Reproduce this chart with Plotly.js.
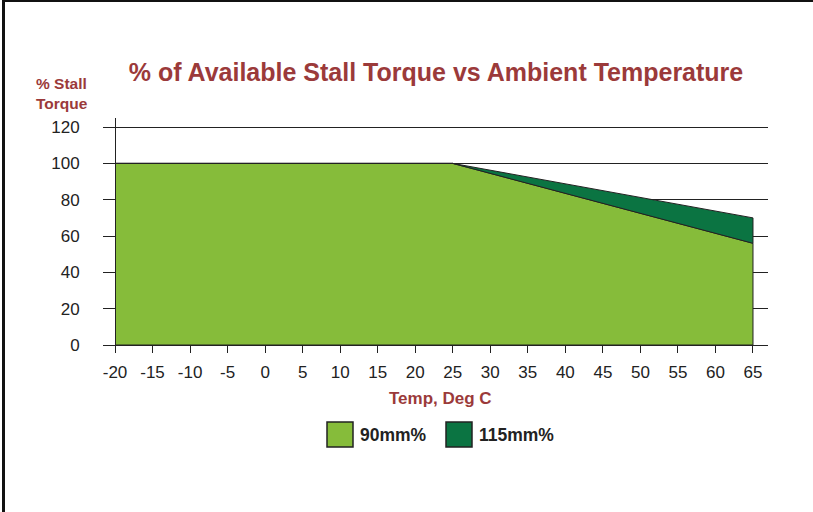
<!DOCTYPE html>
<html>
<head>
<meta charset="utf-8">
<script src="https://cdn.plot.ly/plotly-3.0.1.min.js"></script>
<style>
  html, body { margin: 0; padding: 0; background: #fff; }
  #chart { position: absolute; left: 0; top: 0; width: 813px; height: 512px; }
  #frame { position: absolute; left: 2px; top: 0px; width: 811px; height: 512px;
           border-top: 2px solid #111; border-left: 3px solid #111; box-sizing: border-box; pointer-events: none; }
</style>
</head>
<body>
<div id="chart"></div>
<div id="frame"></div>
<script>
// Data
const temps = [-20, 25, 65];            // Temp, Deg C (breakpoints)
const torque90 = [100, 100, 56];        // 90mm %
const torque115 = [100, 100, 70];       // 115mm %
const xTicks = [-20, -15, -10, -5, 0, 5, 10, 15, 20, 25, 30, 35, 40, 45, 50, 55, 60, 65];
const yTicks = [0, 20, 40, 60, 80, 100, 120];
const seriesNames = ['90mm%', '115mm%'];
const colors = ['#86bc3a', '#0b7442'];
const red = '#9b3a3a';
const FONT = 'Liberation Sans, Arial, sans-serif';

// Polygons built from the data arrays
const last = temps[temps.length - 1], first = temps[0];
const poly90x = temps.concat([last, first]);
const poly90y = torque90.concat([0, 0]);
const poly115x = temps.concat(temps.slice().reverse());
const poly115y = torque115.concat(torque90.slice().reverse());

const xRange = [-21.6, 67];
const yPos = (first - xRange[0]) / (xRange[1] - xRange[0]);

const traces = [
  { x: poly90x, y: poly90y, type: 'scatter', mode: 'lines', fill: 'toself',
    fillcolor: colors[0], line: { color: '#222', width: 1 }, name: seriesNames[0], showlegend: false, hoverinfo: 'skip' },
  { x: poly115x, y: poly115y, type: 'scatter', mode: 'lines', fill: 'toself',
    fillcolor: colors[1], line: { color: '#222', width: 1 }, name: seriesNames[1], showlegend: false, hoverinfo: 'skip' }
];

// legend drawn in paper coordinates (plot area: x 103..768, y 118..345 px)
function px(x) { return (x - 103) / 665; }
function py(y) { return (345 - y) / 227; }

const shapes = [
  { type: 'rect', xref: 'paper', yref: 'paper', x0: px(327), x1: px(353), y0: py(447), y1: py(422),
    fillcolor: colors[0], line: { color: '#222', width: 1.5 } },
  { type: 'rect', xref: 'paper', yref: 'paper', x0: px(446), x1: px(472), y0: py(447), y1: py(422),
    fillcolor: colors[1], line: { color: '#222', width: 1.5 } }
];

const annotations = [
  { text: seriesNames[0], xref: 'paper', yref: 'paper', x: px(358), y: py(435), xanchor: 'left', yanchor: 'middle',
    showarrow: false, font: { family: FONT, size: 17.5, color: '#222', weight: 'bold' } },
  { text: seriesNames[1], xref: 'paper', yref: 'paper', x: px(477), y: py(435), xanchor: 'left', yanchor: 'middle',
    showarrow: false, font: { family: FONT, size: 17.5, color: '#222', weight: 'bold' } },
  { text: '% Stall<br>Torque', xref: 'paper', yref: 'paper', x: px(34), y: py(93), xanchor: 'left', yanchor: 'middle',
    align: 'left', showarrow: false, font: { family: FONT, size: 15.5, color: red, weight: 'bold' } },
  { text: 'Temp, Deg C', xref: 'paper', yref: 'paper', x: px(440), y: py(398), xanchor: 'center', yanchor: 'middle',
    showarrow: false, font: { family: FONT, size: 17, color: red, weight: 'bold' } }
];

const layout = {
  width: 813, height: 512,
  margin: { l: 103, r: 45, t: 118, b: 167 },
  paper_bgcolor: '#fff', plot_bgcolor: '#fff',
  title: { text: '% of Available Stall Torque vs Ambient Temperature',
    font: { family: FONT, size: 25, color: red, weight: 'bold' },
    xref: 'paper', x: px(436), xanchor: 'center', yref: 'container', y: 1 - 72 / 512, yanchor: 'middle' },
  xaxis: { range: xRange, tickvals: xTicks, ticktext: xTicks.map(String), ticks: 'outside', ticklen: 7,
    tickcolor: '#222', showline: true, linecolor: '#222', linewidth: 1, showgrid: false, zeroline: false,
    ticklabelstandoff: 5,
    tickfont: { family: FONT, size: 17, color: '#222' } },
  yaxis: { range: [0, 125], tickvals: yTicks, ticks: 'outside', ticklen: 12, tickcolor: '#222',
    showline: true, linecolor: '#222', linewidth: 1, showgrid: true, gridcolor: '#222', gridwidth: 1,
    zeroline: false, anchor: 'free', position: yPos, ticklabelstandoff: 20,
    tickfont: { family: FONT, size: 17, color: '#222' } },
  shapes: shapes,
  annotations: annotations,
  showlegend: false
};

Plotly.newPlot('chart', traces, layout, { staticPlot: true, displayModeBar: false });
</script>
</body>
</html>
